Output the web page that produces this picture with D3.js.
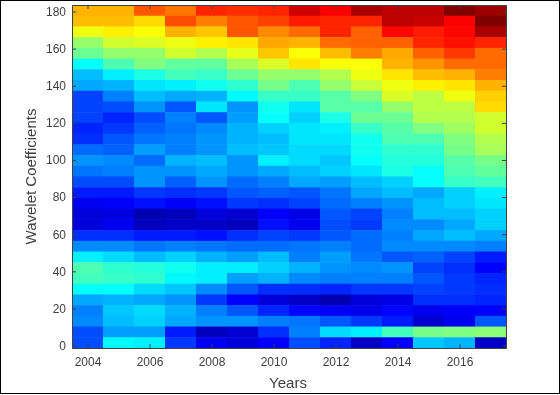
<!DOCTYPE html>
<html>
<head>
<meta charset="utf-8">
<script src="https://cdn.jsdelivr.net/npm/d3@7"></script>
<style>
    html, body { margin: 0; padding: 0; background: #fff; }
    svg { display: block; }
    text { font-family: "Liberation Sans", Arial, sans-serif; fill: #404040; }
    /* the reference is a soft jpeg */
    #plot { filter: blur(0.5px); }
</style>
</head>
<body>
<div id="chart"></div>
<script>
const years = [2004, 2005, 2006, 2007, 2008, 2009, 2010, 2011, 2012, 2013, 2014, 2015, 2016, 2017];
const xTicks = [2004, 2006, 2008, 2010, 2012, 2014, 2016];
const yTicks = [0, 20, 40, 60, 80, 100, 120, 140, 160, 180];

// colour level of each coefficient band per year (0-100 along jet), top row first
const levels = [
    [70, 70, 79, 76, 84, 83, 84, 92, 88, 96, 94, 94, 100, 97],
    [69, 69, 66, 80, 75, 79, 81, 85, 84, 84, 94, 93, 88, 100],
    [61, 64, 62, 70, 68, 79, 74, 77, 84, 78, 87, 85, 87, 96],
    [52, 58, 59, 61, 64, 65, 71, 70, 77, 78, 78, 84, 86, 84],
    [48, 52, 52, 58, 55, 60, 68, 62, 69, 75, 71, 78, 82, 77],
    [38, 45, 50, 47, 47, 54, 59, 65, 62, 62, 70, 73, 77, 77],
    [31, 36, 40, 44, 43, 48, 52, 52, 55, 61, 65, 69, 70, 75],
    [29, 30, 35, 36, 39, 42, 49, 45, 52, 57, 61, 64, 65, 70],
    [19, 25, 31, 29, 30, 37, 43, 43, 46, 50, 59, 56, 61, 67],
    [19, 20, 27, 21, 35, 27, 39, 35, 46, 46, 52, 56, 56, 66],
    [19, 16, 20, 25, 21, 28, 38, 33, 40, 48, 48, 55, 55, 58],
    [16, 18, 22, 24, 26, 30, 33, 35, 36, 43, 46, 50, 53, 58],
    [17, 21, 24, 25, 27, 30, 31, 35, 35, 39, 45, 45, 50, 55],
    [23, 22, 28, 25, 27, 31, 32, 34, 34, 39, 42, 42, 49, 54],
    [27, 26, 23, 30, 31, 27, 36, 34, 32, 38, 41, 41, 46, 49],
    [24, 25, 27, 27, 29, 27, 29, 31, 33, 35, 40, 38, 45, 47],
    [20, 20, 27, 22, 27, 23, 25, 29, 28, 31, 33, 38, 43, 44],
    [15, 15, 18, 17, 18, 21, 22, 21, 24, 29, 31, 29, 33, 36],
    [11, 12, 14, 12, 14, 18, 17, 19, 23, 25, 27, 31, 33, 35],
    [9, 9.5, 5, 6, 9, 8, 12, 10, 21, 19, 25, 31, 31, 33],
    [9, 11, 6, 7, 7, 6, 14, 11, 20, 18, 26, 26, 29, 33],
    [17, 17, 15, 15, 14, 17, 19, 18, 21, 23, 25, 29, 31, 29],
    [26, 26, 24, 25, 24, 23, 23, 24, 25, 23, 26, 26, 26, 25],
    [36, 34, 31, 33, 30, 28, 31, 25, 28, 24, 21, 22, 19, 15],
    [45, 42, 41, 39, 36, 36, 33, 30, 27, 26, 27, 19, 17, 12.5],
    [44, 43, 42, 37, 36, 28, 30, 26, 25, 25, 25, 21, 18, 16],
    [38, 38, 34, 32, 26, 21, 17, 17, 16, 18, 18, 19, 18, 17],
    [29, 30, 29, 27, 18, 12.5, 9, 7, 5, 9, 10, 17, 17, 16],
    [25, 32, 34, 30, 25, 21, 16, 13, 12, 10.5, 13, 11, 12, 12],
    [26, 31, 33, 29, 27, 27, 25, 24, 21, 18, 15, 8, 11, 21],
    [20, 28, 28, 15, 6, 8, 17, 25, 34, 36, 44, 49, 50, 51],
    [20, 37, 36, 18, 11, 9, 12, 20, 16, 7, 12, 32, 30, 7]
];
const rowIds = d3.range(levels.length);

const width = 560;
const height = 395;
const margin = {top: 5, right: 54, bottom: 47, left: 72};
const innerW = width - margin.left - margin.right;
const innerH = height - margin.top - margin.bottom;

const svg = d3.select("#chart").append("svg")
    .attr("width", width)
    .attr("height", height);

// image frame
svg.append("rect")
    .attr("x", 0.5).attr("y", 0.5)
    .attr("width", width - 1).attr("height", height - 2)
    .attr("fill", "#fff")
    .attr("stroke", "#000");

const g = svg.append("g")
    .attr("id", "plot")
    .attr("transform", `translate(${margin.left},${margin.top})`);

const xBand = d3.scaleBand().domain(years).range([0, innerW]);
const yBand = d3.scaleBand().domain(rowIds).range([0, innerH]);

const x = d3.scaleLinear().domain([2003.5, 2017.5]).range([0, innerW]);
const y = d3.scaleLinear().domain([-1.3, 183.5]).range([innerH, 0]);

// jet
const jet = d3.scaleLinear()
    .domain([0, 12.5, 37.5, 62.5, 87.5, 100])
    .range(["#000080", "#0000ff", "#00ffff", "#ffff00", "#ff0000", "#800000"]);

levels.forEach((row, i) => {
    g.selectAll(`.row${i}`)
        .data(row)
        .enter().append("rect")
        .attr("class", `row${i}`)
        .attr("x", (d, j) => xBand(years[j]))
        .attr("y", yBand(i))
        .attr("width", xBand.bandwidth() + 0.5)
        .attr("height", yBand.bandwidth() + 0.5)
        .attr("fill", d => jet(d));
});

// axes, ticks pointing inwards like the original
const tickLen = 4;
g.append("g")
    .attr("transform", `translate(0,${innerH})`)
    .call(d3.axisBottom(x).tickValues(xTicks).tickFormat(d3.format("d")).tickSizeInner(-tickLen).tickSizeOuter(0).tickPadding(9));
g.append("g")
    .call(d3.axisTop(x).tickValues(xTicks).tickFormat("").tickSizeInner(-tickLen).tickSizeOuter(0));
g.append("g")
    .call(d3.axisLeft(y).tickValues(yTicks).tickSizeInner(-tickLen).tickSizeOuter(0).tickPadding(6));
g.append("g")
    .attr("transform", `translate(${innerW},0)`)
    .call(d3.axisRight(y).tickValues(yTicks).tickFormat("").tickSizeInner(-tickLen).tickSizeOuter(0));

g.selectAll(".domain").attr("stroke", "#404040");
g.selectAll(".tick line").attr("stroke", "#404040");
g.selectAll(".tick text").attr("font-size", 12).attr("fill", "#404040");

g.append("text")
    .attr("x", innerW / 2 - 1)
    .attr("y", innerH + 40)
    .attr("text-anchor", "middle")
    .attr("font-size", 15)
    .text("Years");

g.append("text")
    .attr("transform", `translate(-36,${innerH / 2}) rotate(-90)`)
    .attr("text-anchor", "middle")
    .attr("font-size", 15)
    .text("Wavelet Coefficients");
</script>
</body>
</html>
